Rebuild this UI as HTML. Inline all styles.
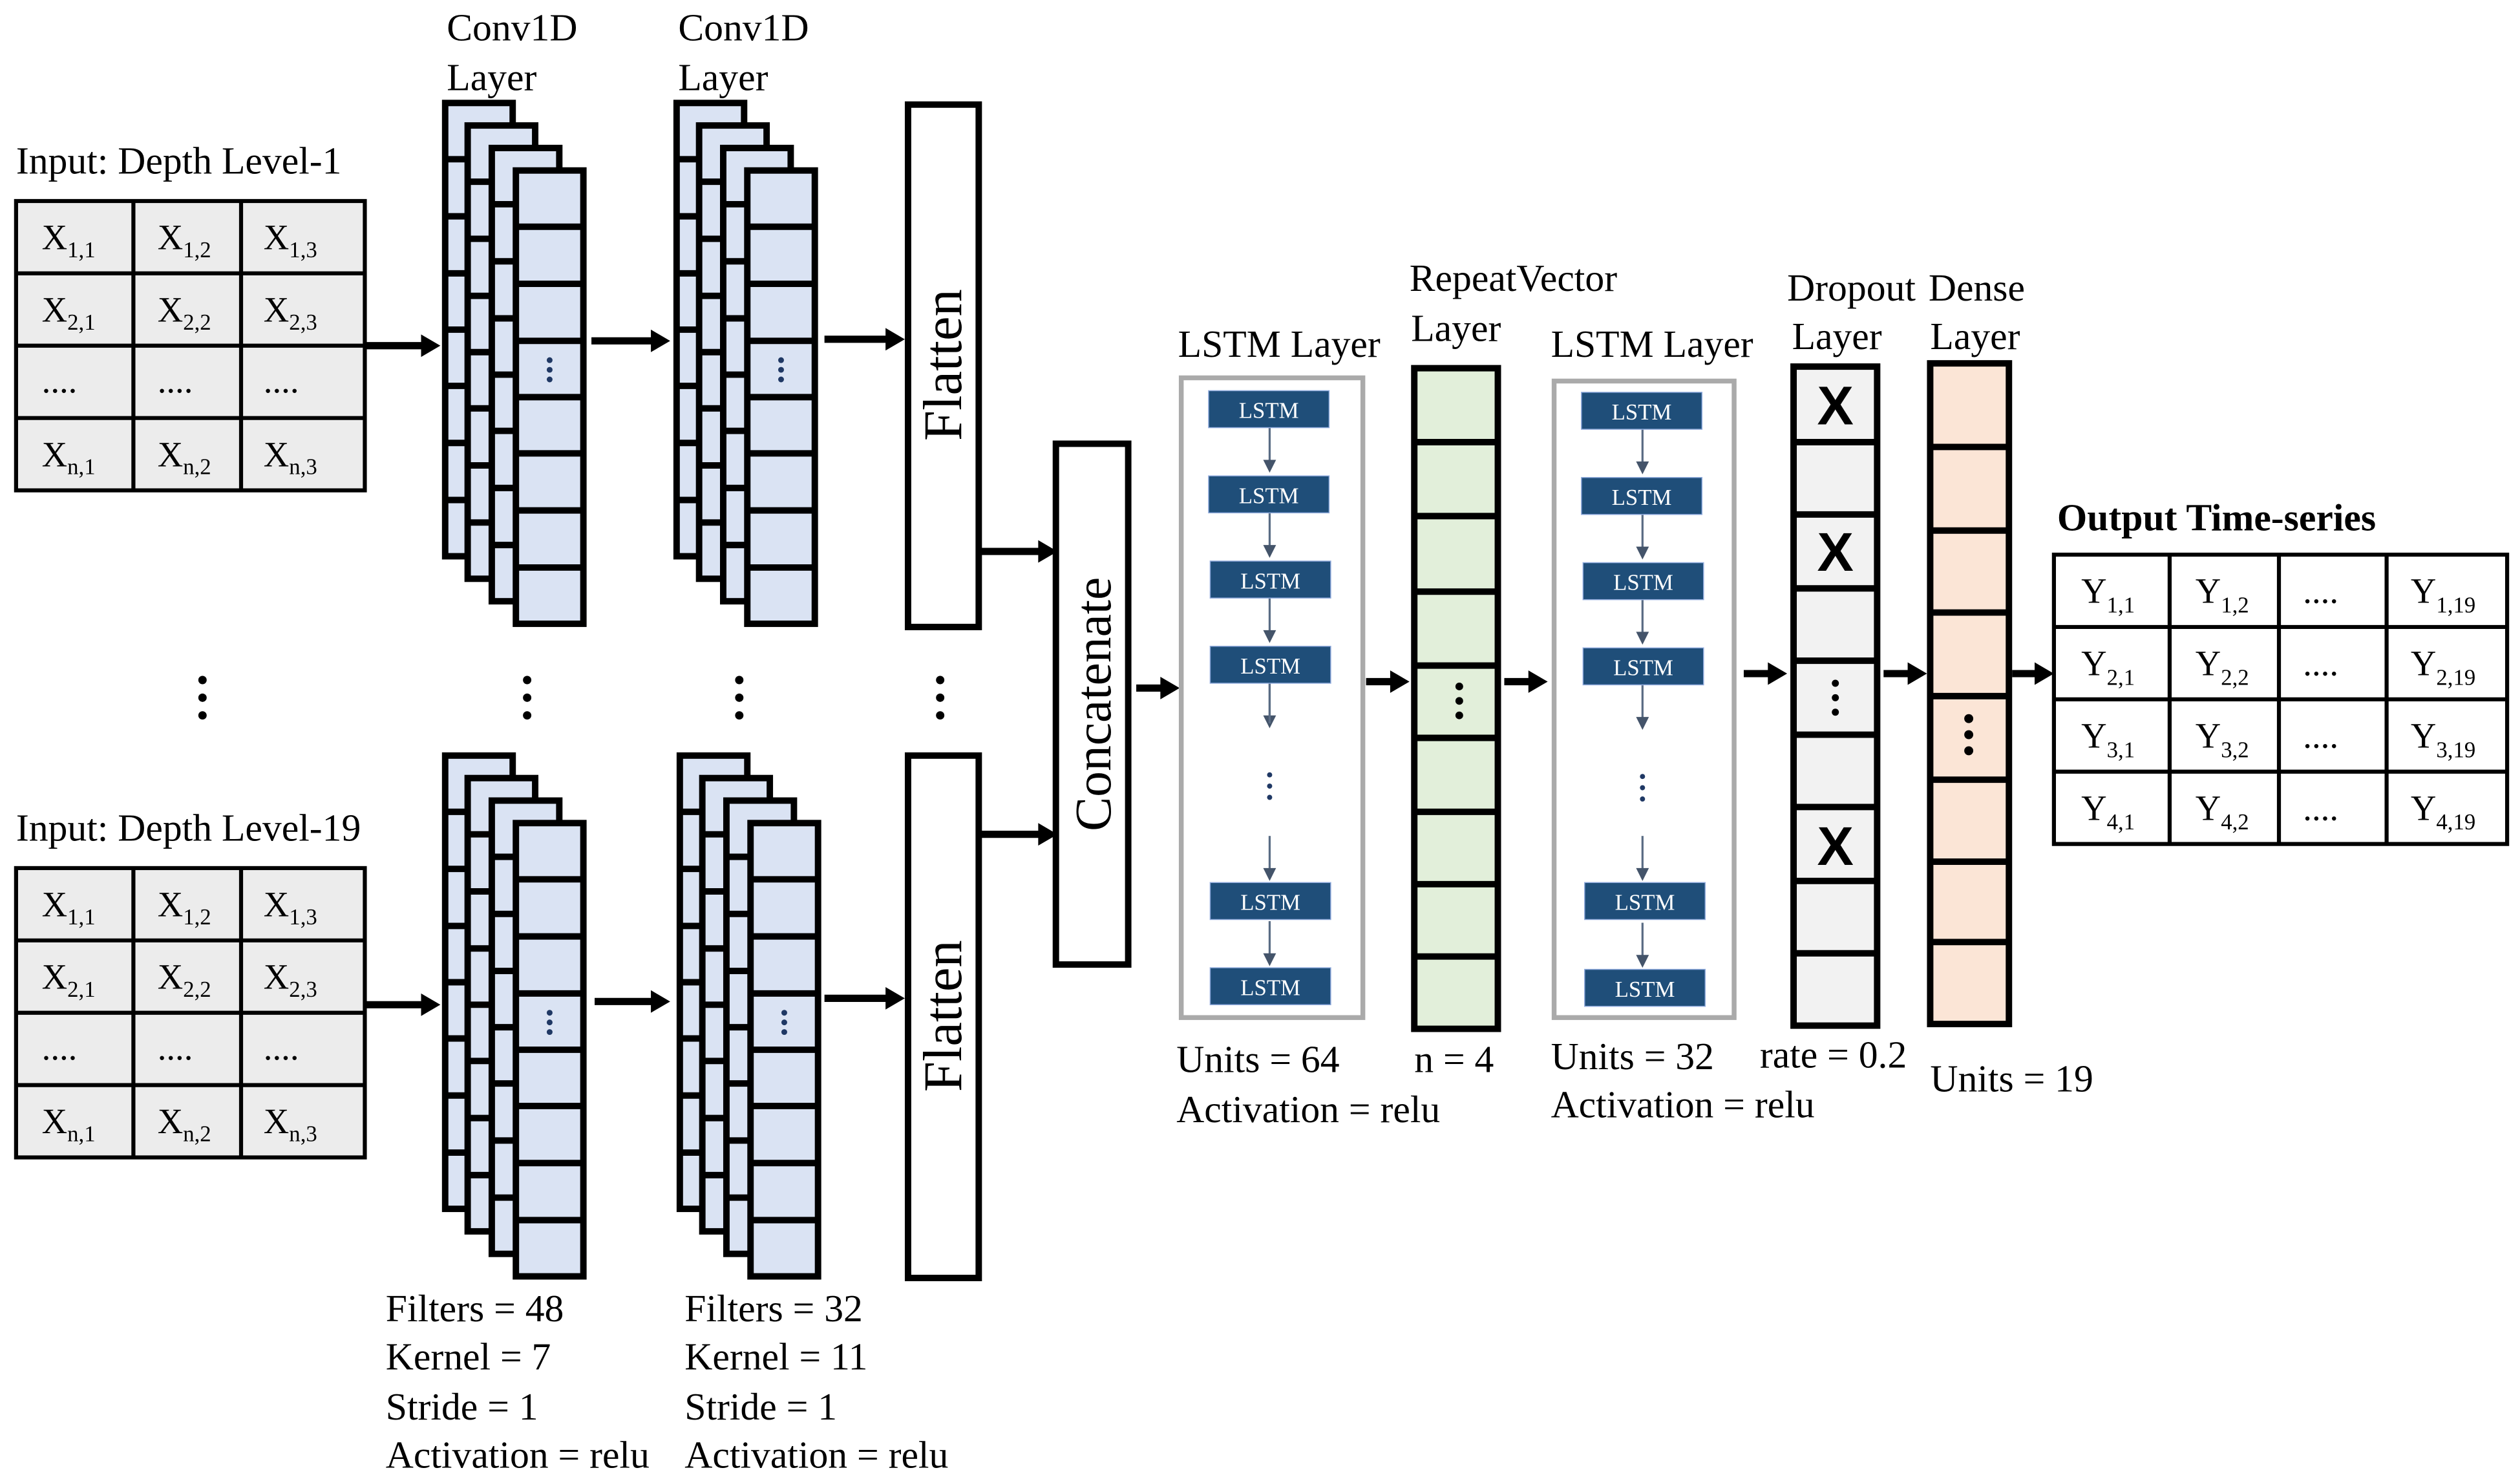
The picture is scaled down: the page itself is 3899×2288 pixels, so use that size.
<!DOCTYPE html>
<html><head><meta charset="utf-8"><style>
html,body{margin:0;padding:0;background:#fff;}
svg{display:block;font-family:"Liberation Serif","Times New Roman",serif;}
svg text{font-family:"Liberation Serif","Times New Roman",serif;fill:#000;}
.lb{font-size:24px;font-family:"Liberation Serif",serif;}
.cx{font-size:22px;font-family:"Liberation Serif",serif;}
.sb{font-size:14px;}
svg text.ls{font-size:14px;fill:#fff;font-family:"Liberation Serif",serif;}
</style></head><body>
<svg width="3899" height="2288" viewBox="0 0 1568 920" xmlns="http://www.w3.org/2000/svg" font-family="Liberation Serif, serif">
<defs>
<g id="layer">
<rect x="0" y="0" width="42" height="282" fill="#dae3f3" stroke="#000" stroke-width="4"/>
<path d="M0 35H42M0 70.5H42M0 106H42M0 141H42M0 176H42M0 211.5H42M0 247H42" stroke="#000" stroke-width="4"/>
</g>
<g id="conv">
<use href="#layer" x="0" y="0"/>
<use href="#layer" x="14" y="14"/>
<use href="#layer" x="29" y="28"/>
<use href="#layer" x="44" y="42"/>
<circle cx="65" cy="160" r="1.8" fill="#1f3864"/><circle cx="65" cy="166" r="1.8" fill="#1f3864"/><circle cx="65" cy="172" r="1.8" fill="#1f3864"/>
</g>
<g id="lstm"><rect x="0" y="0" width="75" height="23" fill="#1f4e79" stroke="#8faadc" stroke-width="0.6"/><text x="37.5" y="17" text-anchor="middle" class="ls" font-family="Liberation Serif, serif">LSTM</text></g>
<g id="sa"><path d="M0 0V22" stroke="#5a6c84" stroke-width="1.3"/><path d="M-4 20L4 20L0 28z" fill="#44546a"/></g>
</defs>

<g stroke="#000" stroke-width="2.5" fill="#ececec">
<rect x="10" y="125" width="217" height="180"/>
<path d="M83 125V305M150 125V305M10 170H227M10 215H227M10 260H227" fill="none"/>
<rect x="10" y="540" width="217" height="180"/>
<path d="M83 540V720M150 540V720M10 585H227M10 630H227M10 675H227" fill="none"/>
</g>
<text x="10" y="108" class="lb">Input: Depth Level-1</text>
<text x="10" y="523" class="lb">Input: Depth Level-19</text>
<g class="cx">
<text x="26" y="155">X<tspan class="sb" dy="5">1,1</tspan></text>
<text x="98" y="155">X<tspan class="sb" dy="5">1,2</tspan></text>
<text x="164" y="155">X<tspan class="sb" dy="5">1,3</tspan></text>
<text x="26" y="200">X<tspan class="sb" dy="5">2,1</tspan></text>
<text x="98" y="200">X<tspan class="sb" dy="5">2,2</tspan></text>
<text x="164" y="200">X<tspan class="sb" dy="5">2,3</tspan></text>
<text x="26" y="244">....</text><text x="98" y="244">....</text><text x="164" y="244">....</text>
<text x="26" y="290">X<tspan class="sb" dy="5">n,1</tspan></text>
<text x="98" y="290">X<tspan class="sb" dy="5">n,2</tspan></text>
<text x="164" y="290">X<tspan class="sb" dy="5">n,3</tspan></text>
<text x="26" y="570">X<tspan class="sb" dy="5">1,1</tspan></text>
<text x="98" y="570">X<tspan class="sb" dy="5">1,2</tspan></text>
<text x="164" y="570">X<tspan class="sb" dy="5">1,3</tspan></text>
<text x="26" y="615">X<tspan class="sb" dy="5">2,1</tspan></text>
<text x="98" y="615">X<tspan class="sb" dy="5">2,2</tspan></text>
<text x="164" y="615">X<tspan class="sb" dy="5">2,3</tspan></text>
<text x="26" y="659">....</text><text x="98" y="659">....</text><text x="164" y="659">....</text>
<text x="26" y="705">X<tspan class="sb" dy="5">n,1</tspan></text>
<text x="98" y="705">X<tspan class="sb" dy="5">n,2</tspan></text>
<text x="164" y="705">X<tspan class="sb" dy="5">n,3</tspan></text>
</g>

<use href="#conv" x="277" y="64"/>
<use href="#conv" x="421" y="64"/>
<use href="#conv" x="277" y="470"/>
<use href="#conv" x="423" y="470"/>
<text x="278" y="25" class="lb">Conv1D</text><text x="278" y="56" class="lb">Layer</text>
<text x="422" y="25" class="lb">Conv1D</text><text x="422" y="56" class="lb">Layer</text>

<g fill="#000">
<circle cx="126" cy="423" r="2.6"/><circle cx="126" cy="434" r="2.6"/><circle cx="126" cy="445" r="2.6"/>
<circle cx="328" cy="423" r="2.6"/><circle cx="328" cy="434" r="2.6"/><circle cx="328" cy="445" r="2.6"/>
<circle cx="460" cy="423" r="2.6"/><circle cx="460" cy="434" r="2.6"/><circle cx="460" cy="445" r="2.6"/>
<circle cx="585" cy="423" r="2.6"/><circle cx="585" cy="434" r="2.6"/><circle cx="585" cy="445" r="2.6"/>
</g>

<g fill="#fff" stroke="#000" stroke-width="4">
<rect x="565" y="65" width="44" height="325"/>
<rect x="565" y="470" width="44" height="325"/>
<rect x="657" y="276" width="45" height="324"/>
</g>
<text transform="translate(598,227) rotate(-90)" text-anchor="middle" style="font-size:34px">Flatten</text>
<text transform="translate(598,632) rotate(-90)" text-anchor="middle" style="font-size:34px">Flatten</text>
<text transform="translate(691,438) rotate(-90)" text-anchor="middle" style="font-size:32px">Concatenate</text>

<g stroke="#000" stroke-width="4.5">
<path d="M227 215H264M368 212H407M513 211H553M609 343H648M609 519H648M707 428H724M850 424H867M936 424H953M1085 419H1102M1172 419H1189M1252 419H1268"/>
<path d="M227 625H264M370 623H407M513 621H553"/>
</g>
<g fill="#000">
<path d="M262 208L274 215L262 222z"/><path d="M405 205L417 212L405 219z"/><path d="M551 204L563 211L551 218z"/>
<path d="M646 336L658 343L646 350z"/><path d="M646 512L658 519L646 526z"/>
<path d="M722 421L734 428L722 435z"/><path d="M865 417L877 424L865 431z"/><path d="M951 417L963 424L951 431z"/>
<path d="M1100 412L1112 419L1100 426z"/><path d="M1187 412L1199 419L1187 426z"/><path d="M1266 412L1278 419L1266 426z"/>
<path d="M262 618L274 625L262 632z"/><path d="M405 616L417 623L405 630z"/><path d="M551 614L563 621L551 628z"/>
</g>

<rect x="735" y="235" width="113" height="398" fill="#fff" stroke="#aaa" stroke-width="3"/>
<text x="733" y="222" class="lb">LSTM Layer</text>
<use href="#sa" x="790" y="266"/><use href="#sa" x="790" y="319"/><use href="#sa" x="790" y="372"/><use href="#sa" x="790" y="425"/>
<use href="#sa" x="790" y="520"/><use href="#sa" x="790" y="573"/>
<path d="M790 425V450" stroke="#5a6c84" stroke-width="1.3"/>
<g fill="#1f3864"><circle cx="790" cy="482" r="1.6"/><circle cx="790" cy="489" r="1.6"/><circle cx="790" cy="496" r="1.6"/></g>
<use href="#lstm" x="752" y="243"/><use href="#lstm" x="752" y="296"/><use href="#lstm" x="753" y="349"/><use href="#lstm" x="753" y="402"/><use href="#lstm" x="753" y="549"/><use href="#lstm" x="753" y="602"/>
<text x="732" y="667" class="lb">Units = 64</text>
<text x="732" y="698" class="lb">Activation = relu</text>

<rect x="880" y="229" width="52" height="411" fill="#e2efda" stroke="#000" stroke-width="4"/>
<path d="M880 275H932M880 321H932M880 368H932M880 414H932M880 459H932M880 505H932M880 550H932M880 595H932" stroke="#000" stroke-width="4"/>
<g fill="#000"><circle cx="908" cy="427" r="2.4"/><circle cx="908" cy="436" r="2.4"/><circle cx="908" cy="445" r="2.4"/></g>
<text x="877" y="181" class="lb">RepeatVector</text><text x="878" y="212" class="lb">Layer</text>
<text x="880" y="667" class="lb">n = 4</text>

<rect x="967" y="237" width="112" height="396" fill="#fff" stroke="#aaa" stroke-width="3"/>
<text x="965" y="222" class="lb">LSTM Layer</text>
<use href="#sa" x="1022" y="267"/><use href="#sa" x="1022" y="320"/><use href="#sa" x="1022" y="373"/><use href="#sa" x="1022" y="426"/>
<use href="#sa" x="1022" y="520"/><use href="#sa" x="1022" y="574"/>
<g fill="#1f3864"><circle cx="1022" cy="483" r="1.6"/><circle cx="1022" cy="490" r="1.6"/><circle cx="1022" cy="497" r="1.6"/></g>
<use href="#lstm" x="984" y="244"/><use href="#lstm" x="984" y="297"/><use href="#lstm" x="985" y="350"/><use href="#lstm" x="985" y="403"/><use href="#lstm" x="986" y="549"/><use href="#lstm" x="986" y="603"/>
<text x="965" y="665" class="lb">Units = 32</text>
<text x="965" y="695" class="lb">Activation = relu</text>

<rect x="1116" y="228" width="52" height="410" fill="#f2f2f2" stroke="#000" stroke-width="4"/>
<path d="M1116 275H1168M1116 320H1168M1116 366H1168M1116 411H1168M1116 457H1168M1116 502H1168M1116 548H1168M1116 593H1168" stroke="#000" stroke-width="4"/>
<g text-anchor="middle">
<text x="1142" y="264" style="font-family:'Liberation Sans',sans-serif;font-weight:bold;font-size:34px">X</text>
<text x="1142" y="355" style="font-family:'Liberation Sans',sans-serif;font-weight:bold;font-size:34px">X</text>
<text x="1142" y="538" style="font-family:'Liberation Sans',sans-serif;font-weight:bold;font-size:34px">X</text>
</g>
<g fill="#000"><circle cx="1142" cy="425" r="2.2"/><circle cx="1142" cy="434" r="2.2"/><circle cx="1142" cy="443" r="2.2"/></g>
<text x="1112" y="187" class="lb">Dropout</text><text x="1115" y="217" class="lb">Layer</text>
<text x="1095" y="664" class="lb">rate = 0.2</text>

<rect x="1201" y="226" width="49" height="411" fill="#fbe5d6" stroke="#000" stroke-width="4"/>
<path d="M1201 278H1250M1201 330H1250M1201 381H1250M1201 433H1250M1201 485H1250M1201 536H1250M1201 586H1250" stroke="#000" stroke-width="4"/>
<g fill="#000"><circle cx="1225" cy="447" r="2.8"/><circle cx="1225" cy="457" r="2.8"/><circle cx="1225" cy="467" r="2.8"/></g>
<text x="1200" y="187" class="lb">Dense</text><text x="1201" y="217" class="lb">Layer</text>
<text x="1201" y="679" class="lb">Units = 19</text>

<text x="1280" y="330" class="lb" style="font-weight:bold">Output Time-series</text>
<g stroke="#000" stroke-width="2.5" fill="#fff">
<rect x="1278" y="345" width="282" height="180"/>
<path d="M1350 345V525M1418 345V525M1485 345V525M1278 390H1560M1278 435H1560M1278 480H1560" fill="none"/>
</g>
<g class="cx">
<text x="1295" y="375">Y<tspan class="sb" dy="6">1,1</tspan></text>
<text x="1366" y="375">Y<tspan class="sb" dy="6">1,2</tspan></text>
<text x="1433" y="375">....</text>
<text x="1500" y="375">Y<tspan class="sb" dy="6">1,19</tspan></text>
<text x="1295" y="420">Y<tspan class="sb" dy="6">2,1</tspan></text>
<text x="1366" y="420">Y<tspan class="sb" dy="6">2,2</tspan></text>
<text x="1433" y="420">....</text>
<text x="1500" y="420">Y<tspan class="sb" dy="6">2,19</tspan></text>
<text x="1295" y="465">Y<tspan class="sb" dy="6">3,1</tspan></text>
<text x="1366" y="465">Y<tspan class="sb" dy="6">3,2</tspan></text>
<text x="1433" y="465">....</text>
<text x="1500" y="465">Y<tspan class="sb" dy="6">3,19</tspan></text>
<text x="1295" y="510">Y<tspan class="sb" dy="6">4,1</tspan></text>
<text x="1366" y="510">Y<tspan class="sb" dy="6">4,2</tspan></text>
<text x="1433" y="510">....</text>
<text x="1500" y="510">Y<tspan class="sb" dy="6">4,19</tspan></text>
</g>

<text x="240" y="822" class="lb">Filters = 48</text>
<text x="240" y="852" class="lb">Kernel = 7</text>
<text x="240" y="883" class="lb">Stride = 1</text>
<text x="240" y="913" class="lb">Activation = relu</text>
<text x="426" y="822" class="lb">Filters = 32</text>
<text x="426" y="852" class="lb">Kernel = 11</text>
<text x="426" y="883" class="lb">Stride = 1</text>
<text x="426" y="913" class="lb">Activation = relu</text>
</svg>
</body></html>
